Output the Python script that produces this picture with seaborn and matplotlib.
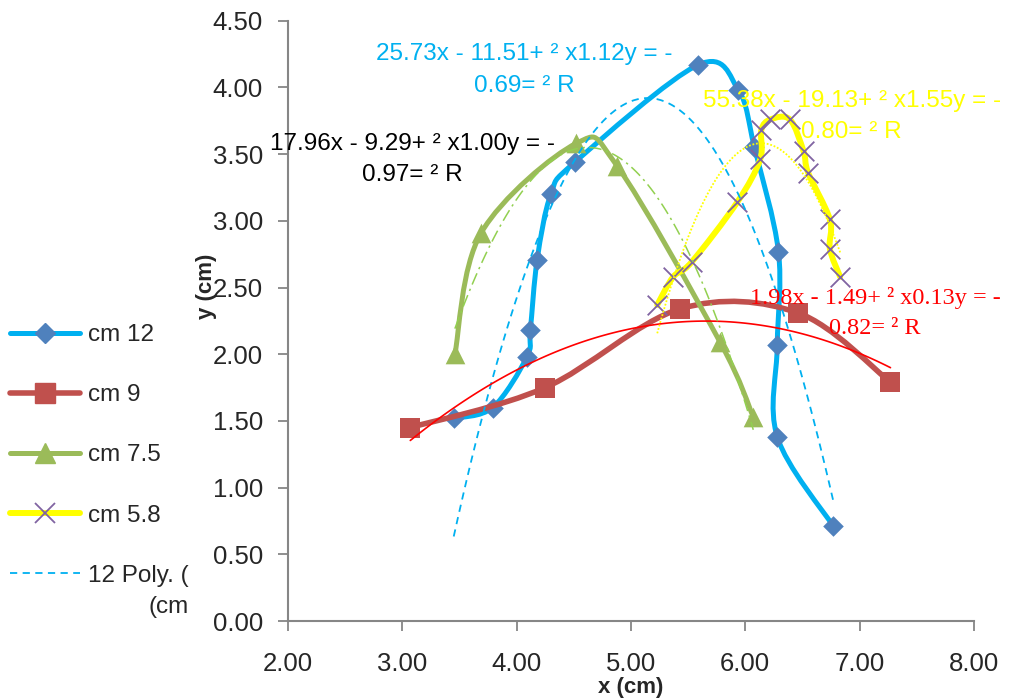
import numpy as np
import matplotlib
matplotlib.use('Agg')
import matplotlib.pyplot as plt
from matplotlib.path import Path
from matplotlib.patches import PathPatch
from matplotlib.lines import Line2D
import seaborn as sns

# cm 12
x12 = [3.45, 3.79, 4.09, 4.12, 4.18, 4.30, 4.51, 5.59, 5.94, 6.08, 6.29, 6.28, 6.28, 6.77]
y12 = [1.52, 1.60, 1.98, 2.18, 2.71, 3.20, 3.44, 4.17, 3.98, 3.55, 2.77, 2.07, 1.38, 0.71]
# cm 9
x9 = [3.07, 4.25, 5.43, 6.46, 7.27]
y9 = [1.45, 1.75, 2.34, 2.31, 1.79]
# cm 7.5
x75 = [3.46, 3.69, 4.52, 4.88, 5.78, 6.07]
y75 = [2.00, 2.91, 3.58, 3.41, 2.09, 1.53]
# cm 5.8
x58 = [5.23, 5.37, 5.53, 5.93, 6.13, 6.14, 6.22, 6.39, 6.51, 6.55, 6.74, 6.74, 6.83]
y58 = [2.37, 2.58, 2.69, 3.14, 3.46, 3.68, 3.76, 3.76, 3.52, 3.36, 3.01, 2.79, 2.58]

series_names = ['cm 12', 'cm 9', 'cm 7.5', 'cm 5.8']
poly_label = '12 Poly. ('

xticks = [2, 3, 4, 5, 6, 7, 8]
yticks = [0, 0.5, 1, 1.5, 2, 2.5, 3, 3.5, 4, 4.5]

# trendline labels as shown in the chart
eq12 = '25.73x - 11.51+ \u00b2 x1.12y = -\n0.69= \u00b2 R'
eq75 = '17.96x - 9.29+ \u00b2 x1.00y = -\n0.97= \u00b2 R'
eq58 = '55.38x - 19.13+ \u00b2 x1.55y = -\n0.80= \u00b2 R'
eq9 = '1.98x - 1.49+ \u00b2 x0.13y = -\n0.82= \u00b2 R'


def smooth_path(xs, ys):
    """Bezier path through the points, like Excel's smoothed line."""
    pts = np.column_stack([xs, ys])
    n = len(pts)
    verts = [pts[0]]
    codes = [Path.MOVETO]
    for i in range(n - 1):
        p0 = pts[max(i - 1, 0)]
        p1 = pts[i]
        p2 = pts[i + 1]
        p3 = pts[min(i + 2, n - 1)]
        verts += [p1 + (p2 - p0) / 6, p2 - (p3 - p1) / 6, p2]
        codes += [Path.CURVE4] * 3
    return Path(verts, codes)


sns.set_style('ticks')
plt.rcParams['font.family'] = ['Liberation Sans', 'DejaVu Sans']
FS = 17.5
TICK_FS = 18.5
GRAY = '#868686'

fig = plt.figure(figsize=(10.1, 6.98), dpi=100)
ax = fig.add_axes([0.2851, 0.1103, 0.6792, 0.8600])

styles = [
    # x, y, line colour, lw, marker, size, marker colour
    (x12, y12, '#00B0F0', 3.6, 'D', 110, '#4F81BD'),
    (x9, y9, '#C0504D', 4.0, 's', 200, '#C0504D'),
    (x75, y75, '#9BBB59', 3.6, '^', 200, '#9BBB59'),
    (x58, y58, '#FFFF00', 4.3, 'x', 200, '#8064A2'),
]
for k, (xs, ys, lc, lw, mk, sz, mc) in enumerate(styles):
    z = 2 + k
    ax.add_patch(PathPatch(smooth_path(xs, ys), fill=False, edgecolor=lc,
                           lw=lw, capstyle='round', joinstyle='round', zorder=z))
    if mk == 'x':
        sns.scatterplot(x=xs, y=ys, marker=mk, s=sz, color=mc, linewidth=1.3,
                        ax=ax, zorder=z + 0.5)
    else:
        sns.scatterplot(x=xs, y=ys, marker=mk, s=sz, color=mc, linewidth=0,
                        ax=ax, zorder=z + 0.5)

# polynomial (order 2) trendlines
trends = [
    (x12, y12, '#00B0F0', 1.3, (0, (4, 3))),
    (x9, y9, '#FF0000', 1.2, '-'),
    (x75, y75, '#92D050', 1.1, (0, (8, 3, 1.5, 3))),
    (x58, y58, '#FFFF00', 1.3, (0, (1, 1))),
]
for xs, ys, c, lw, ls in trends:
    sns.regplot(x=np.array(xs), y=np.array(ys), order=2, ci=None, scatter=False,
                truncate=True, color=c, line_kws={'lw': lw, 'ls': ls, 'zorder': 8},
                ax=ax)

txt = dict(ha='center', va='center', fontsize=FS, linespacing=1.55, zorder=10,
           clip_on=False)
ax.text(4.07, 4.13, eq12, color='#00B0F0', **txt)
ax.text(3.085, 3.46, eq75, color='black', **txt)
ax.text(6.93, 3.78, eq58, color='#FFFF00', **txt)
ax.text(7.135, 2.31, eq9, color='#FF0000',
        family=['Liberation Serif', 'DejaVu Serif'], **txt)

ax.set_xlim(2, 8)
ax.set_ylim(0, 4.5)
ax.set_xticks(xticks)
ax.set_yticks(yticks)
ax.set_xticklabels([f'{v:.2f}' for v in xticks])
ax.set_yticklabels([f'{v:.2f}' for v in yticks])
ax.tick_params(length=7, width=1.3, color=GRAY, labelsize=TICK_FS,
               bottom=True, left=True)
ax.tick_params(axis='x', pad=15)
ax.tick_params(axis='y', pad=11)
for side in ['top', 'right']:
    ax.spines[side].set_visible(False)
for side in ['left', 'bottom']:
    ax.spines[side].set_color(GRAY)
    ax.spines[side].set_linewidth(1.5)

ax.set_xlabel('x (cm)', fontweight='bold', fontsize=16)
ax.xaxis.set_label_coords(0.5, -0.094)
ax.set_ylabel('y (cm)', fontweight='bold', fontsize=16)
ax.yaxis.set_label_coords(-0.1035, 0.557)

handles = [
    Line2D([], [], color='#00B0F0', lw=3.6, marker='D', ms=10.5,
           mfc='#4F81BD', mec='#4F81BD'),
    Line2D([], [], color='#C0504D', lw=4.0, marker='s', ms=14, mfc='#C0504D',
           mec='#C0504D'),
    Line2D([], [], color='#9BBB59', lw=3.6, marker='^', ms=14, mfc='#9BBB59',
           mec='#9BBB59'),
    Line2D([], [], color='#FFFF00', lw=4.3, marker='x', ms=14, mec='#8064A2',
           mew=1.3),
    Line2D([], [], color='#00B0F0', lw=1.3, ls=(0, (4, 3))),
]
leg = fig.legend(handles, series_names + [poly_label], loc='upper left',
                 bbox_to_anchor=(0.0099, 1 - 324 / 698), frameon=False,
                 fontsize=FS, handlelength=2.9, handletextpad=0.3,
                 labelspacing=1.57, borderpad=0, borderaxespad=0)

fig.canvas.draw()
bb = leg.get_texts()[-1].get_window_extent(fig.canvas.get_renderer())
W, H = fig.bbox.width, fig.bbox.height
fig.text(bb.x1 / W, ((bb.y0 + bb.y1) / 2 - 31) / H, '(cm', ha='right',
         va='center', fontsize=FS)

fig.savefig('out.png', dpi=100)
